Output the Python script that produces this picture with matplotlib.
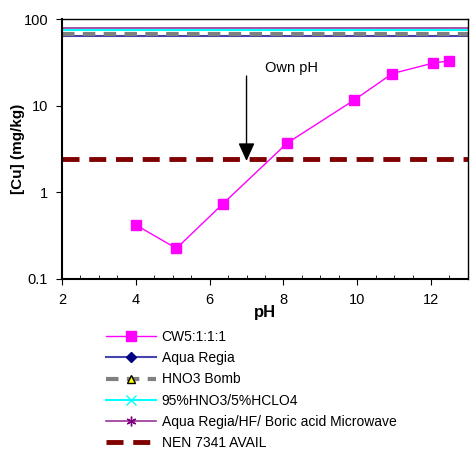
import matplotlib
matplotlib.use("Agg")
import matplotlib.pyplot as plt
from matplotlib.lines import Line2D
from matplotlib.ticker import MultipleLocator, FixedLocator, NullLocator

plt.rcParams['font.family'] = ['Liberation Sans', 'DejaVu Sans']

# CW5:1:1:1 leaching curve
ph = [4.0, 5.1, 6.35, 8.1, 9.9, 10.95, 12.05, 12.5]
cu = [0.42, 0.225, 0.73, 3.7, 11.5, 23.5, 31, 33]

# total contents (horizontal reference lines)
ref_names = ["Aqua Regia", "HNO3 Bomb", "95%HNO3/5%HCLO4",
             "Aqua Regia/HF/ Boric acid Microwave", "NEN 7341 AVAIL"]
ref_values = [64, 68, 74, 79, 2.45]

own_ph = 7.0
xlim = (2, 13)

fig = plt.figure(figsize=(4.77, 4.55), dpi=100)
ax = fig.add_axes([0.130, 0.387, 0.851, 0.571])

ax.plot(ph, cu, color='#ff00ff', lw=1, marker='s', ms=7, mec='#ff00ff', zorder=5)

# reference lines across the whole pH range
ax.plot(xlim, [ref_values[0]] * 2, color='#4444aa', lw=1.5)
ax.plot(xlim, [ref_values[1]] * 2, color='#808080', lw=3, dashes=(3, 2))
ax.plot(xlim, [ref_values[2]] * 2, color='#00ffff', lw=1.5)
ax.plot(xlim, [ref_values[3]] * 2, color='#993399', lw=1.2)
ax.plot(xlim, [ref_values[4]] * 2, color='#800000', lw=3.5, dashes=(3.5, 2))

ax.annotate("", xy=(own_ph, 2.3), xytext=(own_ph, 22),
            arrowprops=dict(arrowstyle='-|>,head_width=0.5,head_length=1.1',
                            color='black', lw=1, shrinkA=0, shrinkB=0))
ax.text(7.5, 27, "Own pH", fontsize=10.5, va='center', ha='left')

ax.set_yscale('log')
ax.set_xlim(*xlim)
ax.set_ylim(0.1, 100)
ax.xaxis.set_major_locator(FixedLocator([2, 4, 6, 8, 10, 12]))
ax.xaxis.set_minor_locator(MultipleLocator(0.5))
ax.yaxis.set_major_locator(FixedLocator([0.1, 1, 10, 100]))
ax.yaxis.set_minor_locator(NullLocator())
ax.set_yticklabels(['0.1', '1', '10', '100'])
ax.tick_params(axis='both', which='major', direction='out', length=4, labelsize=10.5, pad=6)
ax.tick_params(axis='x', which='minor', direction='in', length=3)
ax.set_xlabel("pH", fontsize=12, fontweight='bold', labelpad=-1)
ax.set_ylabel("[Cu] (mg/kg)", fontsize=11, fontweight='bold')
ax.yaxis.set_label_coords(-0.092, 0.5)
for s in ['left', 'bottom']:
    ax.spines[s].set_linewidth(1.5)
for s in ['top', 'right']:
    ax.spines[s].set_linewidth(1.0)

handles = [
    Line2D([], [], color='#ff00ff', lw=1, marker='s', ms=7, mec='#ff00ff'),
    Line2D([], [], color='#4444aa', lw=1.5, marker='D', ms=5, mfc='#000080', mec='#000080'),
    Line2D([], [], color='#808080', lw=3, dashes=(3, 2), marker='^', ms=6, mfc='#ffff00', mec='black', mew=1),
    Line2D([], [], color='#00ffff', lw=1.5, marker='x', ms=7, mec='#00ffff'),
    Line2D([], [], color='#993399', lw=1.2, marker=(6, 2, 0), ms=7, mec='#800080'),
    Line2D([], [], color='#800000', lw=3.5, dashes=(3.5, 2)),
]
labels = ["CW5:1:1:1"] + ref_names
fig.legend(handles, labels, loc='upper left', bbox_to_anchor=(0.208, 0.29),
           frameon=False, fontsize=10, handlelength=3.6, handletextpad=0.4,
           labelspacing=0.52, borderpad=0)

fig.savefig("out.png", dpi=100)
